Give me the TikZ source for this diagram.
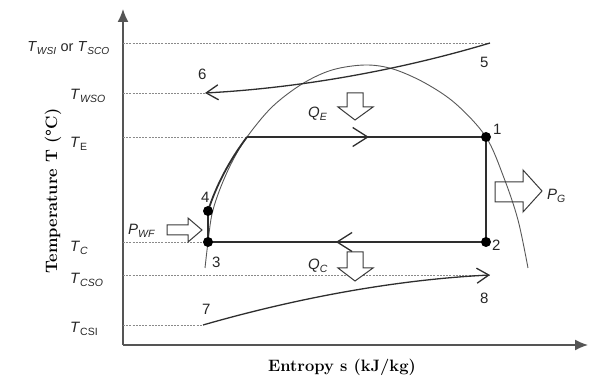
\documentclass[tikz,border=0pt]{standalone}
\usepackage{fontspec}
\newfontfamily\arial{Liberation Sans}
\usetikzlibrary{arrows.meta,decorations.markings}
\definecolor{ln}{HTML}{2E2E2E}
\definecolor{dsh}{HTML}{8A8A8A}
\definecolor{axc}{HTML}{555555}
\definecolor{blk}{HTML}{3A3A3A}
\newcommand{\Ti}[2]{\textit{#1}\textsubscript{\textit{#2}}}
\newcommand{\Tu}[2]{\textit{#1}\textsubscript{#2}}
\begin{document}
\begin{tikzpicture}[x=1pt,y=-1pt,
  lab/.style={font=\arial\fontsize{15}{18}\selectfont, text=black!85, inner sep=0pt},
  axlab/.style={font=\rmfamily\bfseries\fontsize{16.5}{19}\selectfont, inner sep=0pt},
  dashln/.style={dsh, line width=0.9pt, dash pattern=on 2pt off 1.2pt},
  axisln/.style={axc, line width=1.4pt},
  cyc/.style={ln, line width=1.8pt},
  domeln/.style={ln!80, line width=0.9pt},
  streamln/.style={ln, line width=1.3pt},
  midarr/.style={postaction={decorate,decoration={markings,
      mark=at position #1 with {\arrow{Straight Barb[length=15pt,width=19pt,line width=1.3pt]}}}}},
  blockarr/.style={blk, line width=1pt, line join=miter},
  dot/.style={circle, fill=black, inner sep=0pt, minimum size=10pt}
]
\useasboundingbox (0,0) rectangle (590,379);

% axes
\coordinate (O) at (123,345);
\coordinate (ytop) at (123,9);
\coordinate (xend) at (588,345);
\draw[axisln, -{Latex[length=13pt,width=11pt]}] (O) -- (ytop);
\draw[axisln, -{Latex[length=13pt,width=11pt]}] (O) -- (xend);

% state points
\coordinate (p1) at (486,137);
\coordinate (p2) at (486,242);
\coordinate (p3) at (208,242);
\coordinate (p4) at (208,211);
\coordinate (pA) at (247,137);
\coordinate (p5) at (490,43);
\coordinate (p6) at (205,93);
\coordinate (p7) at (203,325);
\coordinate (p8) at (490,275);

% axis anchors for dashed lines
\coordinate (yWSI) at (123,43);
\coordinate (yWSO) at (123,93);
\coordinate (yE) at (123,137);
\coordinate (yC) at (123,242);
\coordinate (yCSO) at (123,275);
\coordinate (yCSI) at (123,325);

\draw[dashln] (yWSI) -- (p5);
\draw[dashln] (yWSO) -- (p6);
\draw[dashln] (yE) -- (pA);
\draw[dashln] (yC) -- (p3);
\draw[dashln] (yCSO) -- (p8);
\draw[dashln] (yCSI) -- (p7);

% saturation dome
\draw[domeln] plot[smooth, tension=0.55] coordinates {
  (205,268) (208,242) (212,214) (220,189) (232,162) (247,137) (272,107)
  (302,84) (332,70) (365,65) (393,69) (425,83) (456,104) (486,137)
  (504,178) (518,220) (528,268)};

% block arrows (heat / power)
\draw[blockarr, fill=white] (347,93) -- (363,93) -- (363,107) -- (373,107) -- (355,120)
  -- (338,107) -- (347,107) -- cycle;
\draw[blockarr, fill=white] (347,252) -- (363,252) -- (363,268) -- (373,268) -- (355,281)
  -- (338,268) -- (347,268) -- cycle;
\draw[blockarr, fill=white] (167,225) -- (188,225) -- (188,218) -- (202,230) -- (188,242)
  -- (188,235) -- (167,235) -- cycle;
\draw[blockarr] (495,182) -- (523,182) -- (523,170) -- (542,191) -- (523,212)
  -- (523,202) -- (495,202) -- cycle;

% stream lines
\draw[streamln, -{Straight Barb[length=12pt,width=15pt]}]
  (p5) .. controls (400,70) and (300,88) .. (p6);
\draw[streamln, -{Straight Barb[length=12pt,width=15pt]}]
  (p7) .. controls (290,300) and (390,280) .. (p8);

% cycle
\draw[cyc] (p3) -- (p4);
\draw[cyc] (p4) .. controls (216,186) and (229,161) .. (pA);
\draw[cyc, midarr=0.51] (pA) -- (p1);
\draw[cyc] (p1) -- (p2);
\draw[cyc, midarr=0.54] (p2) -- (p3);

\node[dot] (d1) at (p1) {};
\node[dot] (d2) at (p2) {};
\node[dot] (d3) at (p3) {};
\node[dot] (d4) at (p4) {};

% numbers
\node[lab, anchor=base west] (n1) at (493,135) {1};
\node[lab, anchor=base west] (n2) at (492,251) {2};
\node[lab, anchor=base west] (n3) at (212,268) {3};
\node[lab, anchor=base west] (n4) at (201,203) {4};
\node[lab, anchor=base west] (n5) at (480,68) {5};
\node[lab, anchor=base west] (n6) at (198,80) {6};
\node[lab, anchor=base west] (n7) at (202,315) {7};
\node[lab, anchor=base west] (n8) at (480,304) {8};

% temperature labels
\node[lab, anchor=base east, font=\arial\fontsize{14.5}{17}\selectfont] (tWSI) at (110,52) {\Ti{T}{WSI} or \Ti{T}{SCO}};
\node[lab, anchor=base west] (tWSO) at (70,100) {\Ti{T}{WSO}};
\node[lab, anchor=base west] (tE) at (70,148) {\Tu{T}{E}};
\node[lab, anchor=base west] (tC) at (70,252) {\Ti{T}{C}};
\node[lab, anchor=base west] (tCSO) at (70,284) {\Ti{T}{CSO}};
\node[lab, anchor=base west] (tCSI) at (70,333) {\Tu{T}{CSI}};

% energy labels
\node[lab, anchor=base west] (QE) at (308,118) {\Ti{Q}{E}};
\node[lab, anchor=base west] (QC) at (308,270) {\Ti{Q}{C}};
\node[lab, anchor=base west] (PWF) at (128,235) {\Ti{P}{WF}};
\node[lab, anchor=base west] (PG) at (547,200) {\Ti{P}{G}};

% axis titles
\node[axlab] (xl) at (342,367) {Entropy s (kJ/kg)};
\node[axlab, rotate=90] (yl) at (53,191) {Temperature T (°C)};
\end{tikzpicture}
\end{document}
